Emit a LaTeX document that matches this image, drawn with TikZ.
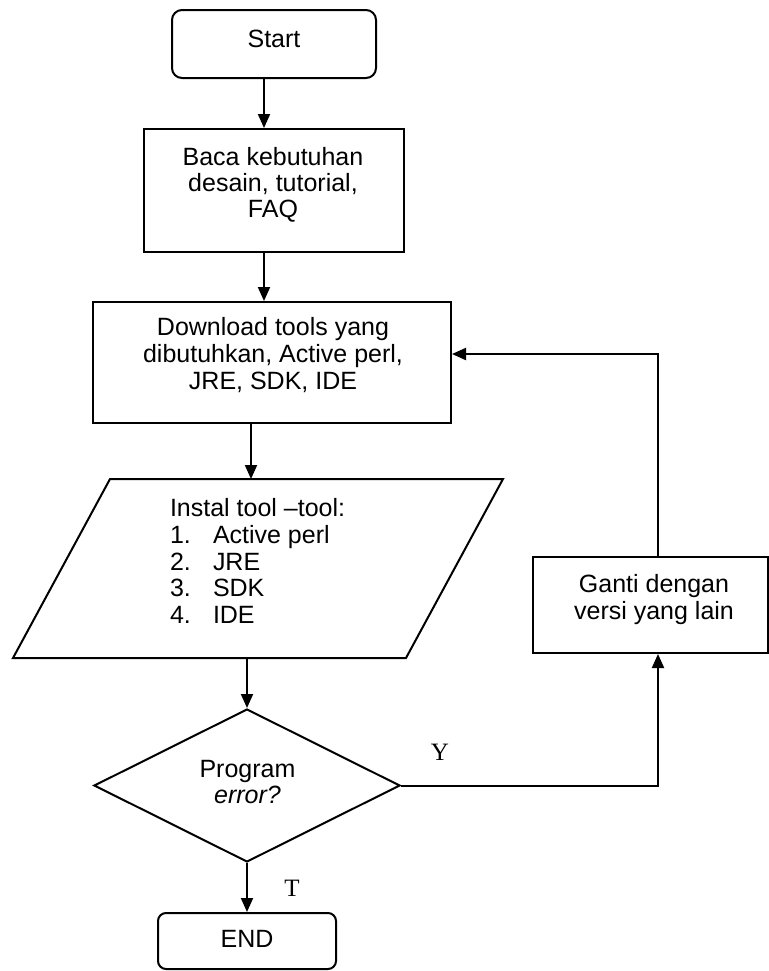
\documentclass[tikz,border=0pt]{standalone}
\usepackage{fontspec}
\setmainfont{Liberation Sans}
\newfontfamily\labelfont{Liberation Serif}
\usetikzlibrary{arrows.meta,shapes.geometric}

\begin{document}
\begin{tikzpicture}[x=0.5pt,y=-0.5pt,
  line width=1pt,
  box/.style={draw, rectangle, inner sep=0pt},
  term/.style={draw, rectangle, rounded corners=5pt, inner sep=0pt},
  txt/.style={inner sep=0pt, anchor=base, font=\fontsize{12.5}{13.4}\selectfont},
  ltxt/.style={txt, anchor=base west},
  yn/.style={inner sep=0pt, anchor=base, font=\labelfont\fontsize{12.5}{14}\selectfont},
  arr/.style={-{Triangle[length=7pt,width=6pt]}},
]
\useasboundingbox (0,0) rectangle (769,971);

% process boxes
\node[term, minimum width=102pt, minimum height=34pt] (start) at (274,44) {};
\node[box, minimum width=130pt, minimum height=61.5pt] (baca) at (274,190.5) {};
\node[box, minimum width=179pt, minimum height=60.5pt] (dl) at (272,362.5) {};
\node[box, minimum width=117.5pt, minimum height=48pt] (ganti) at (650.5,605) {};
\node[term, rounded corners=4pt, minimum width=89pt, minimum height=28pt] (finish) at (247,941) {};

% input/output parallelogram
\draw (110,479) -- (503,479) -- (406,658) -- (13,658) -- cycle;
\coordinate (paratop) at (251,479);
\coordinate (parabot) at (247,658);

% decision
\node[diamond, draw, inner sep=0pt, minimum width=153pt, minimum height=76.5pt] (dec) at (247,785.5) {};

% helper positions for the connectors
\coordinate (axis) at (264,0);
\coordinate (loopx) at (658,0);
\coordinate (dlrow) at (0,354);

% texts
\node[txt] (t-start) at (274,47) {Start};

\node[txt] (t-baca1) at (273,165) {Baca kebutuhan};
\node[txt] (t-baca2) at (273,191) {desain, tutorial,};
\node[txt] (t-baca3) at (273,217) {FAQ};

\node[txt] (t-dl1) at (273,335) {Download tools yang};
\node[txt] (t-dl2) at (273,362) {dibutuhkan, Active perl,};
\node[txt] (t-dl3) at (273,389) {JRE, SDK, IDE};

\node[ltxt] (t-in0) at (169,516) {Instal tool –tool:};
\node[ltxt] (t-n1) at (169,543) {1.};
\node[ltxt] (t-i1) at (212,543) {Active perl};
\node[ltxt] (t-n2) at (169,570) {2.};
\node[ltxt] (t-i2) at (212,570) {JRE};
\node[ltxt] (t-n3) at (169,596) {3.};
\node[ltxt] (t-i3) at (212,596) {SDK};
\node[ltxt] (t-n4) at (169,623) {4.};
\node[ltxt] (t-i4) at (212,623) {IDE};

\node[txt] (t-dec1) at (247.5,777) {Program};
\node[txt, font=\fontsize{12.5}{13.4}\selectfont\itshape] (t-dec2) at (247.5,803) {error?};

\node[txt] (t-ganti1) at (654,592) {Ganti dengan};
\node[txt] (t-ganti2) at (654,619) {versi yang lain};

\node[txt] (t-end) at (247,947) {END};

\node[yn] (t-y) at (440,760) {Y};
\node[yn] (t-t) at (292,896) {T};

% connectors
\draw[arr] (start.south -| axis) -- (baca.north -| axis);
\draw[arr] (baca.south -| axis) -- (dl.north -| axis);
\draw[arr] (dl.south -| paratop) -- (paratop);
\draw[arr] (parabot) -- (dec);
\draw[arr] (dec) -- (finish);
\draw[arr] (dec.east) -| (loopx |- ganti.south);
\draw[arr] (loopx |- ganti.north) |- (dl.east |- dlrow);
\end{tikzpicture}
\end{document}
